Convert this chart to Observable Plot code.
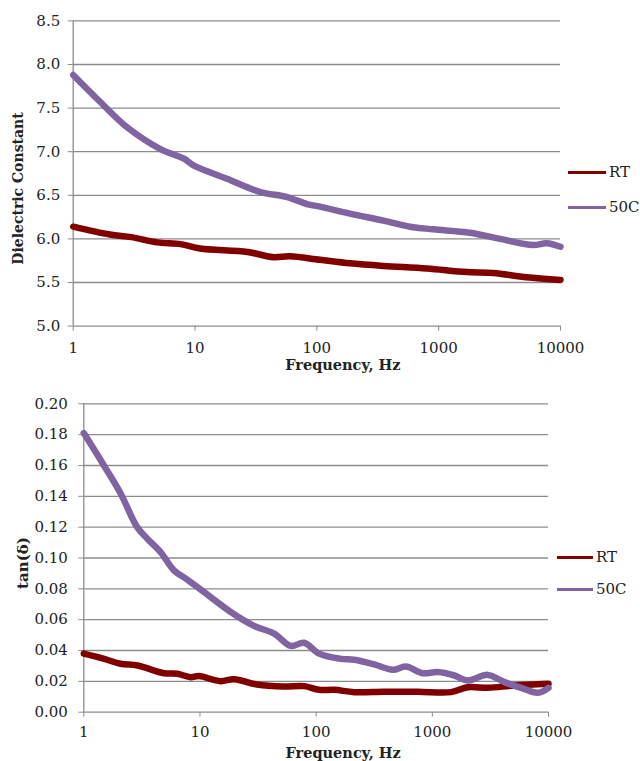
<!DOCTYPE html>
<html>
<head>
<meta charset="utf-8">
<script src="https://cdn.jsdelivr.net/npm/d3@7"></script>
<script src="https://cdn.jsdelivr.net/npm/@observablehq/plot@0.6"></script>
<style>
  html, body { margin: 0; padding: 0; background: #fff; }
  #wrap { position: relative; width: 640px; height: 761px; font-family: "DejaVu Serif", serif; }
  .chart { position: absolute; left: 0; }
  .legend { position: absolute; font-size: 15px; color: #222; display: flex; align-items: center; }
  .legend span.sw { display: inline-block; height: 3px; margin-right: 3px; }
</style>
</head>
<body>
<div id="wrap"></div>
<script>
// ---- Data ----
const xTicks = [1, 10, 100, 1000, 10000];
const dcTicks = [5.0, 5.5, 6.0, 6.5, 7.0, 7.5, 8.0, 8.5];
const tanTicks = [0.00, 0.02, 0.04, 0.06, 0.08, 0.10, 0.12, 0.14, 0.16, 0.18, 0.20];
const seriesNames = ["RT", "50C"];
const seriesColors = ["#800000", "#8064A2"];

// Dielectric constant, RT
const dcFreqRT = [1, 2, 3, 4.9, 7.6, 11, 27, 44, 60, 106, 187, 352, 800, 1700, 2800, 5260, 10000];
const dcRT     = [6.14, 6.05, 6.02, 5.96, 5.94, 5.89, 5.85, 5.79, 5.80, 5.76, 5.72, 5.69, 5.66, 5.62, 5.61, 5.56, 5.53];
// Dielectric constant, 50C
const dcFreq50 = [1, 1.67, 2.77, 5.2, 8.1, 9.8, 18.3, 34, 57, 83, 106, 187, 352, 582, 904, 1807, 3185, 5975, 7680, 10000];
const dc50     = [7.88, 7.57, 7.28, 7.03, 6.92, 6.84, 6.69, 6.54, 6.48, 6.40, 6.37, 6.29, 6.21, 6.14, 6.11, 6.07, 6.00, 5.93, 5.95, 5.91];

// tan(delta), RT
const tanFreqRT = [1, 1.5, 2.07, 2.9, 4.9, 6.4, 8.3, 9.8, 15, 19.6, 31, 53, 79, 106, 143, 213, 386, 750, 1450, 2018, 3003, 5090, 10000];
const tanRT     = [0.038, 0.0346, 0.0314, 0.0303, 0.0253, 0.0249, 0.0227, 0.0234, 0.0201, 0.0214, 0.018, 0.0167, 0.0169, 0.0145, 0.0145, 0.013, 0.0133, 0.0133, 0.013, 0.0162, 0.0158, 0.0173, 0.0184];
// tan(delta), 50C
const tanFreq50 = [1, 1.49, 2.07, 2.88, 3.52, 4.58, 5.97, 7.78, 10.8, 18.4, 29.2, 43.5, 60.5, 78.8, 106, 163, 213, 316, 456, 593, 826, 1113, 1549, 2018, 3003, 4180, 5820, 8110, 10000];
const tan50     = [0.181, 0.160, 0.142, 0.120, 0.1125, 0.1038, 0.092, 0.086, 0.078, 0.065, 0.056, 0.051, 0.043, 0.045, 0.038, 0.0346, 0.034, 0.031, 0.0275, 0.0296, 0.0253, 0.026, 0.0238, 0.0206, 0.0242, 0.0195, 0.0158, 0.0126, 0.0158];

const zip = (xs, ys) => xs.map((x, i) => ({x, y: ys[i]}));

const GRID = "#8c8c8c";
const TEXT = "#222";

function makeChart(o) {
  return Plot.plot({
    width: 640,
    height: o.height,
    marginLeft: o.ml, marginRight: o.mr, marginTop: o.mt, marginBottom: o.mb,
    style: {fontFamily: "DejaVu Serif", fontSize: "15px", background: "#fff", color: TEXT},
    x: {type: "log", domain: [1, 10000]},
    y: {domain: o.yDomain},
    marks: [
      Plot.gridY(o.yTicks, {stroke: GRID, strokeOpacity: 1, strokeWidth: 1.3}),
      Plot.ruleX([1], {stroke: GRID, strokeWidth: 1.3}),
      Plot.axisY(o.yTicks, {tickSize: 5, tickPadding: o.yPad, stroke: GRID, strokeOpacity: 1, fill: TEXT, tickFormat: o.yFormat, label: null}),
      Plot.axisX(xTicks, {tickSize: 5, tickPadding: o.xPad, stroke: GRID, strokeOpacity: 1, fill: TEXT, tickFormat: d => String(d), label: null}),
      Plot.line(o.rt, {x: "x", y: "y", stroke: seriesColors[0], strokeWidth: 6.5, curve: "catmull-rom"}),
      Plot.line(o.c50, {x: "x", y: "y", stroke: seriesColors[1], strokeWidth: 6.5, curve: "catmull-rom"}),
      Plot.text([o.xTitle], {frameAnchor: "bottom", lineAnchor: "middle", dx: o.xTdx, dy: o.xTdy, fontWeight: "bold", fontSize: 14.5, fill: TEXT}),
      Plot.text([o.yTitle], {frameAnchor: "left", rotate: -90, textAnchor: "middle", lineAnchor: "middle", dx: o.yTdx, dy: o.yTdy, fontWeight: "bold", fontSize: o.yTsize, fill: TEXT})
    ]
  });
}

const wrap = document.getElementById("wrap");

const chartTop = makeChart({
  height: 378, ml: 72.7, mr: 80, mt: 20.4, mb: 52.4,
  yDomain: [5, 8.5], yTicks: dcTicks, yFormat: d3.format(".1f"), yPad: 8, xPad: 11,
  rt: zip(dcFreqRT, dcRT), c50: zip(dcFreq50, dc50),
  xTitle: "Frequency, Hz", xTdx: 26, xTdy: 39,
  yTitle: "Dielectric Constant", yTdx: -54.5, yTdy: 15, yTsize: 14
});
const topDiv = document.createElement("div");
topDiv.className = "chart"; topDiv.style.top = "0px";
topDiv.appendChild(chartTop);
wrap.appendChild(topDiv);

const chartBot = makeChart({
  height: 381, ml: 83.3, mr: 92, mt: 23.3, mb: 49.3,
  yDomain: [0, 0.2], yTicks: tanTicks, yFormat: d3.format(".2f"), yPad: 11, xPad: 9,
  rt: zip(tanFreqRT, tanRT), c50: zip(tanFreq50, tan50),
  xTitle: "Frequency, Hz", xTdx: 27, xTdy: 41,
  yTitle: "tan(δ)", yTdx: -61, yTdy: 5, yTsize: 15
});
const botDiv = document.createElement("div");
botDiv.className = "chart"; botDiv.style.top = "380px";
botDiv.appendChild(chartBot);
wrap.appendChild(botDiv);

// Legends
function legend(left, tops, swW) {
  seriesNames.forEach((name, i) => {
    const d = document.createElement("div");
    d.className = "legend";
    d.style.left = left + "px";
    d.style.top = (tops[i] - 10) + "px";
    d.style.height = "20px";
    const sw = document.createElement("span");
    sw.className = "sw";
    sw.style.width = swW + "px";
    sw.style.background = seriesColors[i];
    d.appendChild(sw);
    d.appendChild(document.createTextNode(name));
    wrap.appendChild(d);
  });
}
legend(568, [172, 207], 38);
legend(557, [557, 589], 36);
</script>
</body>
</html>
